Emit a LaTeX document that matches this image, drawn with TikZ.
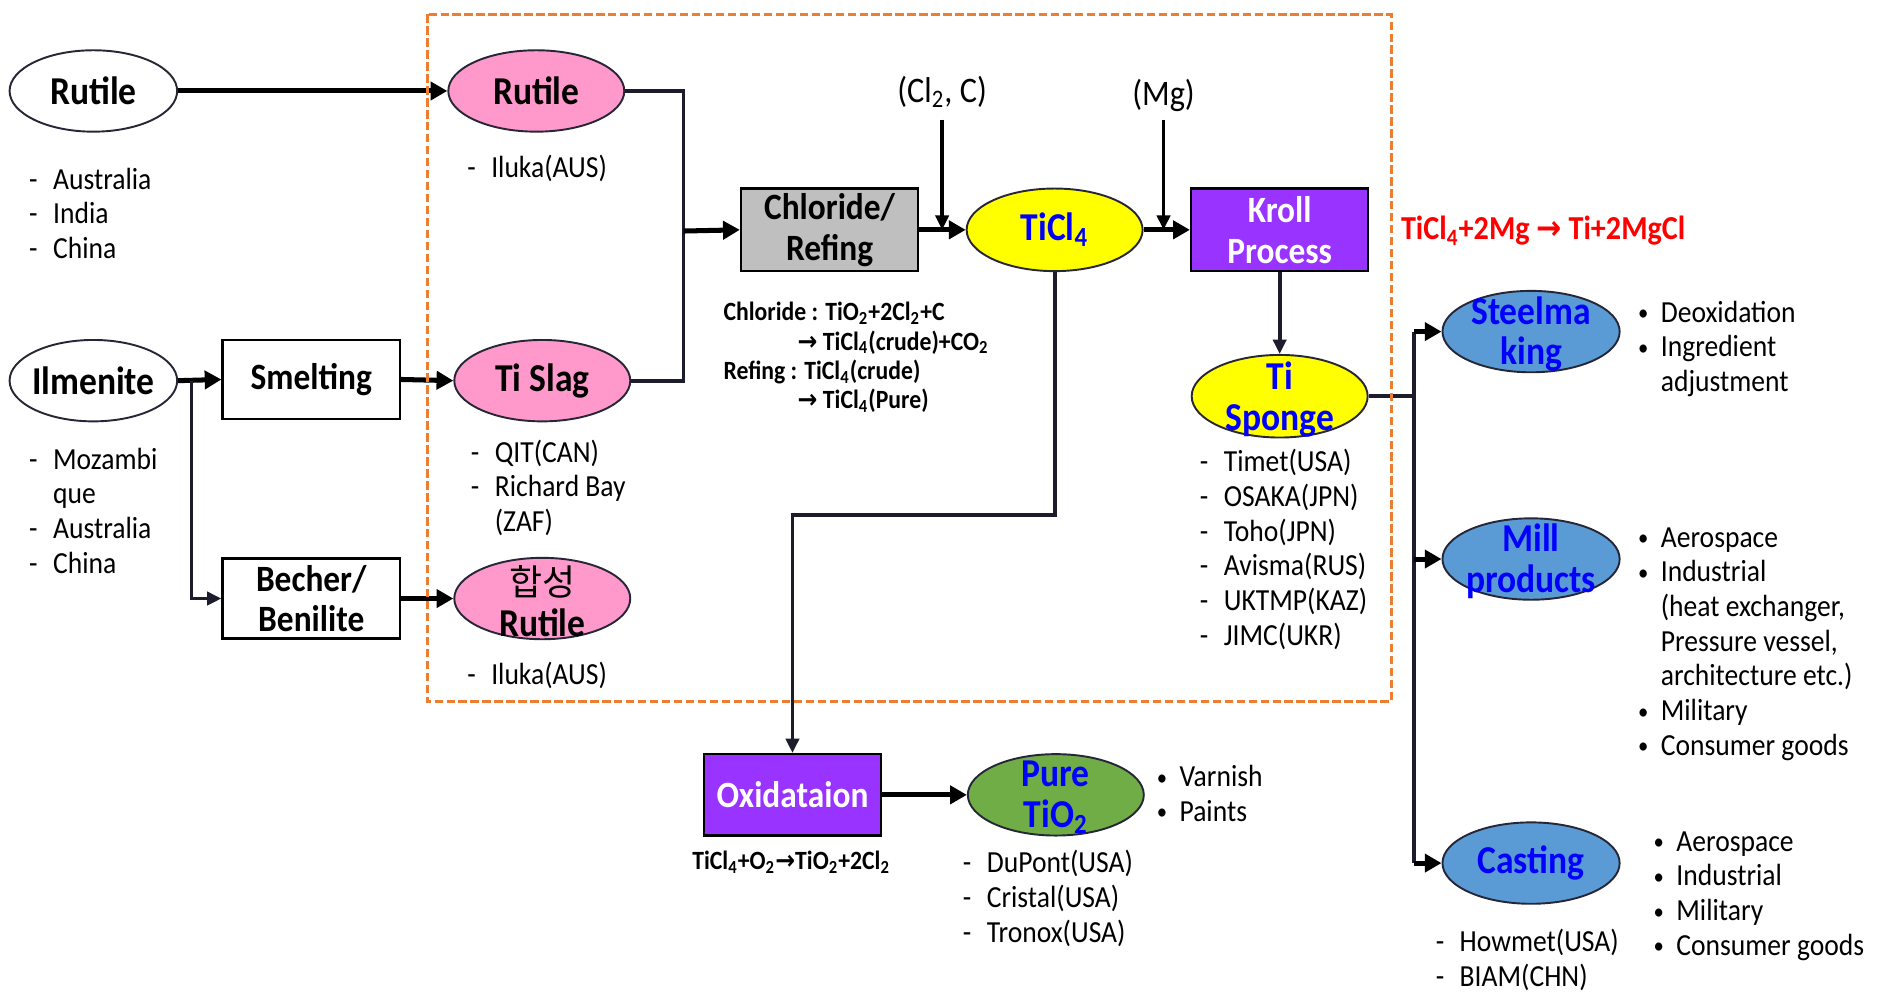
\documentclass[tikz,border=0pt]{standalone}
\usepackage{fontspec}
\setmainfont[FakeStretch=0.9]{Carlito}
\newfontfamily\mykrfont{Noto Sans CJK KR}
\newfontfamily\myarrowfont[FakeStretch=0.9]{DejaVu Sans}
\usetikzlibrary{shapes.geometric,arrows.meta}

\definecolor{pinkfill}{HTML}{FF99CC}
\definecolor{yellowfill}{HTML}{FFFF00}
\definecolor{grayfill}{HTML}{BFBFBF}
\definecolor{purplefill}{HTML}{9933FF}
\definecolor{steelfill}{HTML}{5B9BD5}
\definecolor{greenfill}{HTML}{70AD47}
\definecolor{txtblue}{HTML}{0000FF}
\definecolor{orangec}{HTML}{ED7D31}
\definecolor{redtxt}{HTML}{FF0000}
\definecolor{linecol}{HTML}{1C1C2C}
\definecolor{edgecol}{HTML}{262636}

\newcommand{\dashitem}[1]{\makebox[10pt][l]{-}#1}
\newcommand{\dashcont}[1]{\hspace*{10pt}#1}
\newcommand{\bulitem}[1]{\makebox[9.5pt][l]{\raisebox{0.6pt}{\scalebox{0.75}{\textbullet}}}#1}
\newcommand{\bulcont}[1]{\hspace*{9.5pt}#1}

\tikzset{
  ell/.style={ellipse, draw=edgecol, line width=0.8pt, inner sep=0pt, minimum width=73.5pt, minimum height=34pt},
  bigtxt/.style={font=\bfseries\fontsize{16.5}{17}\selectfont, align=center, inner sep=0pt},
  bluebig/.style={bigtxt, text=txtblue},
  procbox/.style={rectangle, draw=black, line width=1pt, inner sep=0pt, minimum width=74pt, minimum height=34pt, font=\bfseries\fontsize{15.5}{17}\selectfont, align=center},
  lst/.style={font=\fontsize{12.8}{14.5}\selectfont, inner sep=0pt, anchor=base west},
  fml/.style={font=\bfseries\fontsize{11}{12.2}\selectfont, inner sep=0pt},
  thickarrow/.style={line width=2.1pt, draw=black, -{Triangle[length=7pt,width=7.5pt]}},
  conn/.style={line width=1.6pt, draw=linecol, line join=miter},
  connarrow/.style={conn, -{Triangle[length=6pt,width=5.5pt]}},
  thinarrow/.style={line width=1.4pt, draw=black, -{Triangle[length=6pt,width=5.5pt]}},
}

\begin{document}
\begin{tikzpicture}[x=0.5pt,y=-0.5pt]
\useasboundingbox (0,0) rectangle (1568,828);

% ---- ellipses
\node[ell, fill=white, minimum width=70pt, label={[bigtxt]center:Rutile}] (rutL) at (78,76) {};
\node[ell, fill=white, minimum width=70pt, label={[bigtxt]center:Ilmenite}] (ilm) at (78,318) {};
\node[ell, fill=pinkfill, label={[bigtxt]center:Rutile}] (rutP) at (448,76) {};
\node[ell, fill=pinkfill, label={[bigtxt]center:Ti Slag}] (tislag) at (453,318) {};
\node[ell, fill=pinkfill, label={[bigtxt, yshift=-1pt]center:{{\mykrfont\mdseries\fontsize{15}{17}\selectfont 합성}\\Rutile}}] (hap) at (453,500) {};
\node[ell, fill=yellowfill, minimum height=34.5pt, label={[bluebig]center:TiCl\textsubscript{4}}] (ticl) at (881,192) {};
\node[ell, fill=yellowfill, minimum height=34.5pt, label={[bluebig, yshift=-1.5pt]center:{Ti\\Sponge}}] (tis) at (1069,331) {};
\node[ell, fill=steelfill, minimum width=74pt, label={[bluebig, yshift=-1pt]center:{Steelma\\king}}] (steel) at (1279,277) {};
\node[ell, fill=steelfill, minimum width=74pt, label={[bluebig, yshift=-1pt]center:{Mill\\products}}] (mill) at (1279,467) {};
\node[ell, fill=steelfill, minimum width=74pt, label={[bluebig]center:Casting}] (cast) at (1279,721) {};
\node[ell, fill=greenfill, label={[bluebig, yshift=-1pt]center:{Pure\\TiO\textsubscript{2}}}] (pure) at (882,664) {};

% ---- boxes
\node[procbox, minimum height=33pt] (smelt) at (260,317) {Smelting};
\node[procbox, minimum height=33.5pt] (becher) at (260,500) {Becher/\\Benilite};
\node[procbox, fill=grayfill, minimum height=34.5pt] (chl) at (693,192) {Chloride/\\Refing};
\node[procbox, fill=purplefill, text=white, minimum height=34.5pt] (kroll) at (1069,192) {Kroll\\Process};
\node[procbox, fill=purplefill, text=white] (oxi) at (662,664) {Oxidataion};

% ---- connectors
\draw[thickarrow] (rutL.east) -- (rutP.west);
\draw[thickarrow] (ilm.east) -- (smelt.west);
\coordinate (ib) at (160,318);
\draw[connarrow] (ib) |- (becher.west);
\draw[thickarrow] (smelt.east) -- (tislag.west);
\draw[thickarrow] (becher.east) -- (hap.west);
\coordinate (j1) at (571,193);
\draw[conn] (rutP.east) -| (j1) |- (tislag.east);
\draw[thickarrow] (j1) -- (chl.west);
\draw[thickarrow] (chl.east) -- (ticl.west);
\draw[thickarrow] (ticl.east) -- (kroll.west);

\node[font=\fontsize{15}{16}\selectfont, inner sep=0pt] (cl2) at (787,77) {(Cl\textsubscript{2}, C)};
\coordinate (cl2s) at (787,100);
\draw[thinarrow] (cl2s) -- (cl2s |- chl.east);
\node[font=\fontsize{15}{16}\selectfont, inner sep=0pt] (mg) at (972,80) {(Mg)};
\coordinate (mgs) at (972,100);
\draw[thinarrow] (mgs) -- (mgs |- kroll.west);

\draw[connarrow] (kroll.south) -- (tis.north);
\coordinate (j2) at (1181,331);
\draw[conn] (tis.east) -- (j2);
\draw[conn] (j2 |- steel.west) -- (j2 |- cast.west);
\draw[thickarrow] (j2 |- steel.west) -- (steel.west);
\draw[thickarrow] (j2 |- mill.west) -- (mill.west);
\draw[thickarrow] (j2 |- cast.west) -- (cast.west);

\coordinate (bend) at (881,430);
\draw[connarrow] (ticl.south) -- (bend) -| (oxi.north);
\draw[thickarrow] (oxi.east) -- (pure.west);

% ---- texts
\node[anchor=west, font=\bfseries\fontsize{14}{15}\selectfont, text=redtxt, inner sep=0pt] (kreact) at (1170,193) {TiCl\textsubscript{4}+2Mg {\myarrowfont →} Ti+2MgCl};

\node[fml, anchor=base west] (chlf) at (604,268) {\begin{tabular}[t]{@{}l@{}}
Chloride : TiO\textsubscript{2}+2Cl\textsubscript{2}+C\\
\hspace*{31pt}{\myarrowfont →} TiCl\textsubscript{4}(crude)+CO\textsubscript{2}\\
Refing : TiCl\textsubscript{4}(crude)\\
\hspace*{31pt}{\myarrowfont →} TiCl\textsubscript{4}(Pure)
\end{tabular}};

\node[fml] (oxif) at (661,720) {TiCl\textsubscript{4}+O\textsubscript{2}{\myarrowfont →}TiO\textsubscript{2}+2Cl\textsubscript{2}};

\node[lst] (lrut) at (24,158) {\begin{tabular}[t]{@{}l@{}}\dashitem{Australia}\\\dashitem{India}\\\dashitem{China}\end{tabular}};
\node[lst] (lilm) at (24,392) {\begin{tabular}[t]{@{}l@{}}\dashitem{Mozambi}\\\dashcont{que}\\\dashitem{Australia}\\\dashitem{China}\end{tabular}};
\node[lst] (lrutp) at (390,148) {\begin{tabular}[t]{@{}l@{}}\dashitem{Iluka(AUS)}\end{tabular}};
\node[lst] (lslag) at (393,386) {\begin{tabular}[t]{@{}l@{}}\dashitem{QIT(CAN)}\\\dashitem{Richard Bay}\\\dashcont{(ZAF)}\end{tabular}};
\node[lst] (lhap) at (390,572) {\begin{tabular}[t]{@{}l@{}}\dashitem{Iluka(AUS)}\end{tabular}};
\node[lst] (ltis) at (1002,394) {\begin{tabular}[t]{@{}l@{}}\dashitem{Timet(USA)}\\\dashitem{OSAKA(JPN)}\\\dashitem{Toho(JPN)}\\\dashitem{Avisma(RUS)}\\\dashitem{UKTMP(KAZ)}\\\dashitem{JIMC(UKR)}\end{tabular}};
\node[lst] (lpure) at (804,729) {\begin{tabular}[t]{@{}l@{}}\dashitem{DuPont(USA)}\\\dashitem{Cristal(USA)}\\\dashitem{Tronox(USA)}\end{tabular}};
\node[lst] (lcast) at (1199,795) {\begin{tabular}[t]{@{}l@{}}\dashitem{Howmet(USA)}\\\dashitem{BIAM(CHN)}\end{tabular}};

\node[lst] (bsteel) at (1368,269) {\begin{tabular}[t]{@{}l@{}}\bulitem{Deoxidation}\\\bulitem{Ingredient}\\\bulcont{adjustment}\end{tabular}};
\node[lst] (bmill) at (1368,457) {\begin{tabular}[t]{@{}l@{}}\bulitem{Aerospace}\\\bulitem{Industrial}\\\bulcont{(heat exchanger,}\\\bulcont{Pressure vessel,}\\\bulcont{architecture etc.)}\\\bulitem{Military}\\\bulitem{Consumer goods}\end{tabular}};
\node[lst] (bcast) at (1381,711) {\begin{tabular}[t]{@{}l@{}}\bulitem{Aerospace}\\\bulitem{Industrial}\\\bulitem{Military}\\\bulitem{Consumer goods}\end{tabular}};
\node[lst] (bpure) at (966,657) {\begin{tabular}[t]{@{}l@{}}\bulitem{Varnish}\\\bulitem{Paints}\end{tabular}};

% ---- dashed frame
\draw[draw=orangec, line width=1.25pt, dash pattern=on 3.5pt off 1.5pt] (357,12) rectangle (1162,586);
\end{tikzpicture}
\end{document}
